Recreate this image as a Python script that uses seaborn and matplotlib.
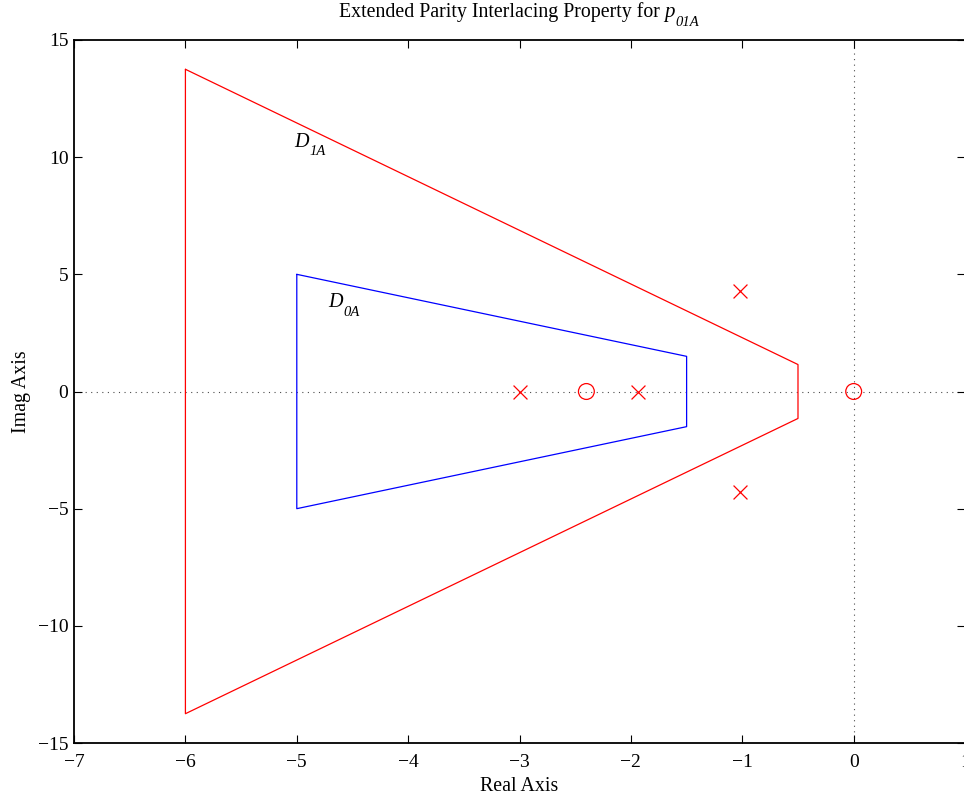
import numpy as np
import pandas as pd
import matplotlib
matplotlib.use("Agg")
import matplotlib.pyplot as plt
import seaborn as sns

# regiones (poligonos cerrados)
d1_real = [-6, -0.5, -0.5, -6, -6]
d1_imag = [13.75, 1.15, -1.15, -13.75, 13.75]
d0_real = [-5, -1.5, -1.5, -5, -5]
d0_imag = [5, 1.5, -1.5, -5, 5]

# polos y ceros
polos_real = [-3.0, -1.94, -1.02, -1.02]
polos_imag = [0.0, 0.0, 4.27, -4.27]
ceros_real = [-2.4, 0.0]
ceros_imag = [0.0, 0.0]

xticks = [-7, -6, -5, -4, -3, -2, -1, 0, 1]
yticks = [-15, -10, -5, 0, 5, 10, 15]

sns.set_style("ticks")
plt.rcParams['font.family'] = ['Liberation Serif', 'DejaVu Serif']
plt.rcParams['text.color'] = 'black'
plt.rcParams['axes.labelcolor'] = 'black'
plt.rcParams['xtick.color'] = 'black'
plt.rcParams['ytick.color'] = 'black'
plt.rcParams['xtick.direction'] = 'in'
plt.rcParams['ytick.direction'] = 'in'

fig = plt.figure(figsize=(9.64, 8), dpi=100)
ax = fig.add_axes([0.0768, 0.07125, 0.9243, 0.87875])

# ejes punteados
ax.axhline(0, color='black', ls=(0, (1, 4)), lw=0.8, alpha=0.7, zorder=0)
ax.axvline(0, color='black', ls=(0, (1, 4)), lw=0.8, alpha=0.7, zorder=0)

df1 = pd.DataFrame({'re': d1_real, 'im': d1_imag})
df0 = pd.DataFrame({'re': d0_real, 'im': d0_imag})
sns.lineplot(data=df1, x='re', y='im', sort=False, estimator=None, color='red', lw=0.9, ax=ax)
sns.lineplot(data=df0, x='re', y='im', sort=False, estimator=None, color='blue', lw=0.9, ax=ax)

sns.scatterplot(x=polos_real, y=polos_imag, marker='x', s=100, color='red', linewidths=0.9, ax=ax)
sns.scatterplot(x=ceros_real, y=ceros_imag, marker='o', s=130, facecolors='none',
                edgecolors='red', linewidths=0.9, ax=ax)


def con_subindice(x, y, base, sub, size, subsize, transform, ha='left'):
    # texto principal + subindice al estilo matlab
    t = ax.text(x, y, base, fontsize=size, style='italic', transform=transform,
                ha=ha, va='baseline')
    ax.annotate(sub, xy=(1, 0), xycoords=t, xytext=(0.5, -2.5), textcoords='offset points',
                fontsize=subsize, style='italic', va='baseline', ha='left')
    return t


con_subindice(-5.02, 10.45, 'D', '1A', 14.5, 10.5, ax.transData)
con_subindice(-4.72, 3.6, 'D', '0A', 14.5, 10.5, ax.transData)

tit = ax.text(0.4799, 1.0327, 'Extended Parity Interlacing Property for ', fontsize=14.3,
              transform=ax.transAxes, ha='center', va='baseline')
p = ax.annotate('p', xy=(1, 0), xycoords=tit, xytext=(0, 3.3), textcoords='offset points',
                fontsize=15, style='italic', va='baseline', ha='left')
ax.annotate('01A', xy=(1, 0), xycoords=p, xytext=(0.5, -2.5), textcoords='offset points',
            fontsize=10.5, style='italic', va='baseline', ha='left')

ax.set_xlim(-7, 1)
ax.set_ylim(-15, 15)
ax.set_xticks(xticks)
ax.set_yticks(yticks)
ax.set_xticklabels(['\u2212' + str(-t) if t < 0 else str(t) for t in xticks])
ax.set_yticklabels(['\u2212' + str(-t) if t < 0 else str(t) for t in yticks])
ax.tick_params(axis='x', top=True, labelsize=14, length=6, width=0.8, pad=8)
ax.tick_params(axis='y', right=True, labelsize=14, length=6, width=0.8, pad=4)
for s in ax.spines.values():
    s.set_linewidth(1.3)
    s.set_color('black')

ax.set_xlabel('Real Axis', fontsize=14.3, labelpad=4.5)
ax.set_ylabel('Imag Axis', fontsize=14.3, labelpad=5)

fig.savefig('out.png', dpi=100)
